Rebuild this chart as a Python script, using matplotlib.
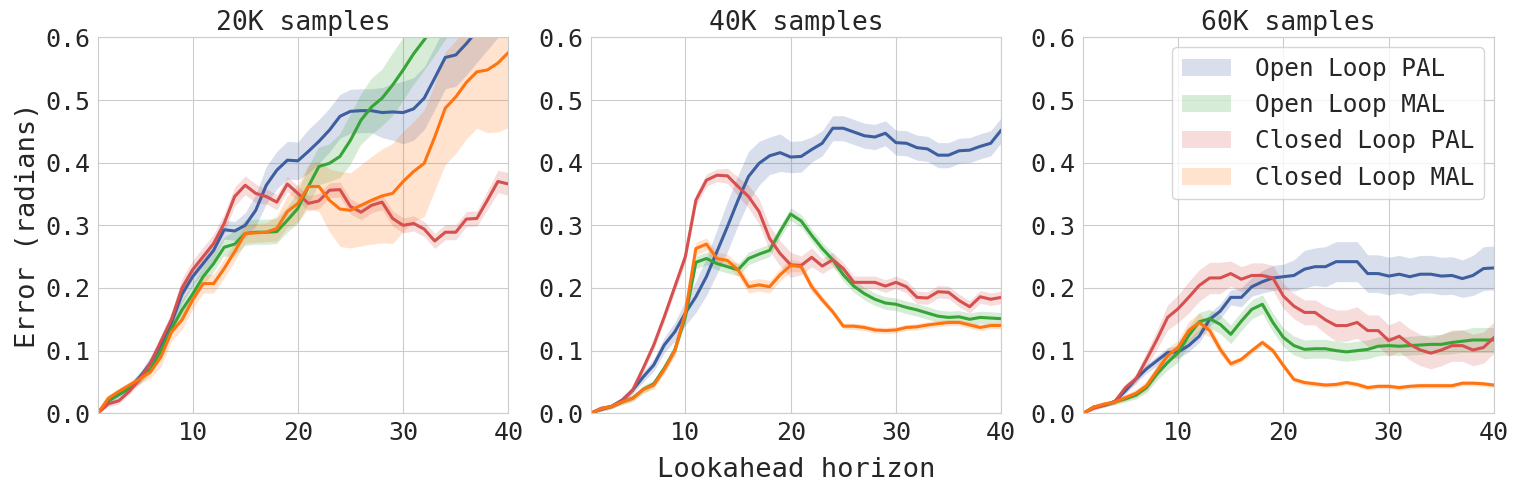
import matplotlib
matplotlib.use("Agg")
import matplotlib.pyplot as plt
import numpy as np
import seaborn as sns

horizon = np.arange(1, 41)
titles = ["20K samples", "40K samples", "60K samples"]
labels = ["Open Loop PAL", "Open Loop MAL", "Closed Loop PAL", "Closed Loop MAL"]
colors = ["#3d5e9f", "#36a436", "#d6504f", "#ff7410"]

# 20K samples
open_pal_20k = [0.0, 0.02, 0.03, 0.04, 0.058, 0.08, 0.11, 0.145, 0.19, 0.218,
                0.239, 0.26, 0.293, 0.291, 0.30, 0.324, 0.364, 0.388, 0.404, 0.403,
                0.418, 0.434, 0.452, 0.474, 0.482, 0.483, 0.483, 0.48, 0.481, 0.48,
                0.486, 0.503, 0.535, 0.568, 0.572, 0.59, 0.61, 0.63, 0.65, 0.67]
open_pal_20k_sd = [0.0, 0.005, 0.005, 0.005, 0.008, 0.01, 0.01, 0.012, 0.015, 0.015,
                   0.015, 0.015, 0.015, 0.015, 0.02, 0.025, 0.03, 0.03, 0.03, 0.03,
                   0.035, 0.035, 0.035, 0.035, 0.035, 0.035, 0.035, 0.04, 0.045, 0.05,
                   0.05, 0.05, 0.05, 0.05, 0.05, 0.05, 0.05, 0.05, 0.05, 0.05]
open_mal_20k = [0.0, 0.02, 0.03, 0.04, 0.055, 0.07, 0.1, 0.135, 0.165, 0.19,
                0.218, 0.239, 0.265, 0.27, 0.287, 0.289, 0.289, 0.29, 0.308, 0.327,
                0.362, 0.394, 0.399, 0.41, 0.436, 0.468, 0.489, 0.503, 0.524, 0.548,
                0.574, 0.596, 0.62, 0.645, 0.67, 0.69, 0.71, 0.73, 0.75, 0.77]
open_mal_20k_sd = [0.0, 0.005, 0.005, 0.005, 0.008, 0.01, 0.01, 0.012, 0.015, 0.015,
                   0.015, 0.015, 0.015, 0.02, 0.02, 0.02, 0.02, 0.02, 0.02, 0.025,
                   0.03, 0.03, 0.03, 0.035, 0.04, 0.04, 0.045, 0.045, 0.05, 0.05,
                   0.05, 0.05, 0.05, 0.05, 0.05, 0.05, 0.05, 0.05, 0.05, 0.05]
closed_pal_20k = [0.0, 0.015, 0.02, 0.035, 0.055, 0.08, 0.115, 0.15, 0.2, 0.229,
                  0.25, 0.271, 0.303, 0.346, 0.364, 0.351, 0.346, 0.337, 0.366, 0.351,
                  0.335, 0.339, 0.356, 0.357, 0.33, 0.321, 0.332, 0.337, 0.311, 0.30,
                  0.303, 0.294, 0.275, 0.289, 0.289, 0.31, 0.311, 0.34, 0.37, 0.366]
closed_pal_20k_sd = [0.0, 0.005, 0.005, 0.005, 0.008, 0.01, 0.01, 0.012, 0.015, 0.015,
                     0.015, 0.015, 0.015, 0.015, 0.015, 0.015, 0.012, 0.012, 0.012, 0.012,
                     0.012, 0.012, 0.012, 0.012, 0.012, 0.012, 0.012, 0.012, 0.012, 0.012,
                     0.012, 0.012, 0.012, 0.012, 0.012, 0.012, 0.012, 0.015, 0.018, 0.018]
closed_mal_20k = [0.0, 0.024, 0.035, 0.045, 0.055, 0.066, 0.09, 0.13, 0.149, 0.181,
                  0.207, 0.207, 0.231, 0.258, 0.287, 0.288, 0.289, 0.295, 0.322, 0.335,
                  0.362, 0.362, 0.34, 0.326, 0.324, 0.332, 0.34, 0.347, 0.351, 0.37,
                  0.386, 0.399, 0.441, 0.487, 0.505, 0.528, 0.545, 0.548, 0.559, 0.576]
closed_mal_20k_sd = [0.0, 0.005, 0.005, 0.005, 0.008, 0.01, 0.015, 0.015, 0.015, 0.015,
                     0.015, 0.015, 0.015, 0.015, 0.015, 0.015, 0.015, 0.02, 0.025, 0.03,
                     0.035, 0.04, 0.05, 0.06, 0.06, 0.065, 0.07, 0.075, 0.08, 0.08,
                     0.08, 0.085, 0.085, 0.09, 0.09, 0.09, 0.09, 0.1, 0.11, 0.12]

# 40K samples
open_pal_40k = [0.0, 0.006, 0.011, 0.021, 0.037, 0.058, 0.077, 0.109, 0.13, 0.16,
                0.186, 0.218, 0.258, 0.298, 0.34, 0.378, 0.399, 0.411, 0.416, 0.409,
                0.41, 0.421, 0.431, 0.455, 0.455, 0.449, 0.443, 0.441, 0.447, 0.432,
                0.431, 0.424, 0.422, 0.412, 0.412, 0.419, 0.42, 0.426, 0.431, 0.452]
open_pal_40k_sd = [0.0, 0.003, 0.004, 0.005, 0.006, 0.008, 0.01, 0.012, 0.015, 0.02,
                   0.025, 0.03, 0.035, 0.04, 0.04, 0.04, 0.035, 0.03, 0.03, 0.025,
                   0.025, 0.02, 0.02, 0.02, 0.02, 0.02, 0.02, 0.02, 0.02, 0.02,
                   0.02, 0.02, 0.02, 0.02, 0.02, 0.02, 0.02, 0.02, 0.02, 0.02]
open_mal_40k = [0.0, 0.007, 0.011, 0.018, 0.024, 0.038, 0.047, 0.072, 0.101, 0.154,
                0.241, 0.247, 0.239, 0.234, 0.229, 0.247, 0.254, 0.26, 0.29, 0.318,
                0.307, 0.284, 0.263, 0.245, 0.221, 0.203, 0.191, 0.182, 0.176, 0.174,
                0.169, 0.165, 0.16, 0.155, 0.153, 0.154, 0.15, 0.153, 0.152, 0.151]
open_mal_40k_sd = [0.0, 0.003, 0.003, 0.004, 0.005, 0.006, 0.006, 0.007, 0.008, 0.01,
                   0.01, 0.01, 0.01, 0.01, 0.01, 0.01, 0.01, 0.01, 0.01, 0.01,
                   0.01, 0.01, 0.01, 0.01, 0.01, 0.01, 0.01, 0.01, 0.01, 0.01,
                   0.01, 0.01, 0.01, 0.01, 0.01, 0.01, 0.01, 0.01, 0.01, 0.01]
closed_pal_40k = [0.0, 0.008, 0.011, 0.02, 0.037, 0.072, 0.109, 0.154, 0.202, 0.25,
                  0.34, 0.372, 0.38, 0.379, 0.362, 0.346, 0.322, 0.279, 0.255, 0.237,
                  0.236, 0.249, 0.235, 0.245, 0.231, 0.209, 0.209, 0.209, 0.203, 0.209,
                  0.202, 0.185, 0.184, 0.194, 0.193, 0.18, 0.17, 0.186, 0.182, 0.185]
closed_pal_40k_sd = [0.0, 0.003, 0.003, 0.004, 0.005, 0.006, 0.007, 0.008, 0.008, 0.01,
                     0.01, 0.01, 0.01, 0.012, 0.015, 0.018, 0.02, 0.02, 0.02, 0.02,
                     0.015, 0.015, 0.012, 0.012, 0.01, 0.01, 0.01, 0.01, 0.01, 0.01,
                     0.01, 0.01, 0.01, 0.01, 0.01, 0.01, 0.01, 0.01, 0.01, 0.01]
closed_mal_40k = [0.0, 0.007, 0.011, 0.018, 0.024, 0.038, 0.045, 0.07, 0.1, 0.16,
                  0.263, 0.27, 0.247, 0.244, 0.229, 0.202, 0.205, 0.202, 0.221, 0.236,
                  0.234, 0.202, 0.181, 0.162, 0.139, 0.139, 0.137, 0.133, 0.132, 0.133,
                  0.137, 0.138, 0.141, 0.143, 0.145, 0.145, 0.141, 0.137, 0.14, 0.14]
closed_mal_40k_sd = [0.0, 0.003, 0.003, 0.004, 0.005, 0.006, 0.006, 0.007, 0.008, 0.01,
                     0.01, 0.01, 0.01, 0.01, 0.01, 0.01, 0.01, 0.01, 0.01, 0.01,
                     0.008, 0.008, 0.006, 0.005, 0.005, 0.005, 0.005, 0.005, 0.005, 0.005,
                     0.005, 0.005, 0.005, 0.005, 0.005, 0.005, 0.005, 0.005, 0.005, 0.005]

# 60K samples
open_pal_60k = [0.0, 0.01, 0.013, 0.019, 0.036, 0.055, 0.071, 0.084, 0.097, 0.098,
                0.108, 0.123, 0.15, 0.163, 0.185, 0.185, 0.202, 0.21, 0.216, 0.218,
                0.22, 0.23, 0.234, 0.234, 0.242, 0.242, 0.242, 0.223, 0.223, 0.219,
                0.222, 0.218, 0.222, 0.222, 0.219, 0.22, 0.215, 0.22, 0.231, 0.232]
open_pal_60k_sd = [0.0, 0.003, 0.003, 0.004, 0.005, 0.006, 0.007, 0.008, 0.008, 0.01,
                   0.01, 0.01, 0.01, 0.012, 0.012, 0.015, 0.015, 0.018, 0.02, 0.02,
                   0.025, 0.03, 0.03, 0.032, 0.032, 0.032, 0.032, 0.03, 0.03, 0.03,
                   0.03, 0.03, 0.03, 0.03, 0.03, 0.03, 0.03, 0.032, 0.035, 0.035]
open_mal_60k = [0.0, 0.01, 0.013, 0.018, 0.023, 0.029, 0.041, 0.063, 0.081, 0.097,
                0.124, 0.146, 0.151, 0.142, 0.126, 0.147, 0.166, 0.174, 0.145, 0.121,
                0.108, 0.102, 0.103, 0.103, 0.1, 0.098, 0.1, 0.102, 0.107, 0.108,
                0.107, 0.108, 0.109, 0.11, 0.11, 0.113, 0.115, 0.117, 0.117, 0.117]
open_mal_60k_sd = [0.0, 0.003, 0.003, 0.004, 0.005, 0.006, 0.008, 0.01, 0.012, 0.015,
                   0.015, 0.015, 0.015, 0.015, 0.015, 0.015, 0.015, 0.015, 0.015, 0.015,
                   0.015, 0.015, 0.015, 0.015, 0.015, 0.015, 0.015, 0.015, 0.015, 0.015,
                   0.015, 0.015, 0.015, 0.015, 0.016, 0.018, 0.018, 0.02, 0.02, 0.02]
closed_pal_60k = [0.0, 0.008, 0.013, 0.019, 0.041, 0.055, 0.086, 0.118, 0.153, 0.167,
                  0.185, 0.204, 0.216, 0.216, 0.223, 0.214, 0.22, 0.22, 0.216, 0.187,
                  0.171, 0.161, 0.161, 0.149, 0.14, 0.14, 0.145, 0.132, 0.132, 0.116,
                  0.123, 0.11, 0.101, 0.096, 0.101, 0.108, 0.108, 0.101, 0.105, 0.121]
closed_pal_60k_sd = [0.0, 0.003, 0.003, 0.004, 0.006, 0.008, 0.012, 0.015, 0.02, 0.022,
                     0.025, 0.025, 0.025, 0.025, 0.02, 0.02, 0.02, 0.02, 0.02, 0.02,
                     0.02, 0.02, 0.02, 0.022, 0.025, 0.025, 0.025, 0.025, 0.025, 0.025,
                     0.025, 0.025, 0.025, 0.025, 0.025, 0.025, 0.025, 0.025, 0.025, 0.025]
closed_mal_60k = [0.0, 0.01, 0.015, 0.018, 0.025, 0.032, 0.044, 0.068, 0.092, 0.105,
                  0.132, 0.145, 0.132, 0.102, 0.079, 0.086, 0.1, 0.113, 0.1, 0.076,
                  0.054, 0.049, 0.047, 0.045, 0.046, 0.049, 0.046, 0.041, 0.043, 0.043,
                  0.041, 0.043, 0.044, 0.044, 0.044, 0.044, 0.048, 0.048, 0.047, 0.045]
closed_mal_60k_sd = [0.0, 0.003, 0.003, 0.004, 0.005, 0.006, 0.008, 0.01, 0.012, 0.012,
                     0.015, 0.015, 0.01, 0.008, 0.005, 0.005, 0.005, 0.005, 0.005, 0.005,
                     0.004, 0.004, 0.004, 0.004, 0.004, 0.004, 0.004, 0.004, 0.004, 0.004,
                     0.004, 0.004, 0.004, 0.004, 0.004, 0.004, 0.004, 0.004, 0.004, 0.004]

panels = [
    [(open_pal_20k, open_pal_20k_sd), (open_mal_20k, open_mal_20k_sd),
     (closed_pal_20k, closed_pal_20k_sd), (closed_mal_20k, closed_mal_20k_sd)],
    [(open_pal_40k, open_pal_40k_sd), (open_mal_40k, open_mal_40k_sd),
     (closed_pal_40k, closed_pal_40k_sd), (closed_mal_40k, closed_mal_40k_sd)],
    [(open_pal_60k, open_pal_60k_sd), (open_mal_60k, open_mal_60k_sd),
     (closed_pal_60k, closed_pal_60k_sd), (closed_mal_60k, closed_mal_60k_sd)],
]

sns.set_style("whitegrid")
plt.rcParams['font.family'] = ['DejaVu Sans Mono']
plt.rcParams['font.size'] = 17

fig, axes = plt.subplots(1, 3, figsize=(15.16, 4.92), dpi=100)
fig.subplots_adjust(left=0.0645, right=0.9855, bottom=0.16, top=0.924, wspace=0.2)

for ax, title, series in zip(axes, titles, panels):
    for (mean, sd), color, label in zip(series, colors, labels):
        mean = np.array(mean)
        sd = np.array(sd)
        ax.fill_between(horizon, mean - sd, mean + sd, color=color, alpha=0.2,
                        linewidth=0, label=label)
        ax.plot(horizon, mean, color=color, lw=2.2)
    ax.set_xlim(1, 40)
    ax.set_ylim(0, 0.6)
    ax.set_xticks([10, 20, 30, 40])
    ax.set_yticks([0.0, 0.1, 0.2, 0.3, 0.4, 0.5, 0.6])
    ax.set_title(title, fontsize=19, pad=5)
    ax.tick_params(axis='both', labelsize=18, pad=2)
    for s in ax.spines.values():
        s.set_color('#cccccc')

axes[0].set_ylabel("Error (radians)", fontsize=19.5, labelpad=3)
axes[1].set_xlabel("Lookahead horizon", fontsize=19.5, labelpad=9)
axes[2].legend(loc='upper right', fontsize=17.6, handlelength=2.0,
               handletextpad=1.0, borderaxespad=0.4)

fig.savefig("out.png", dpi=100)
